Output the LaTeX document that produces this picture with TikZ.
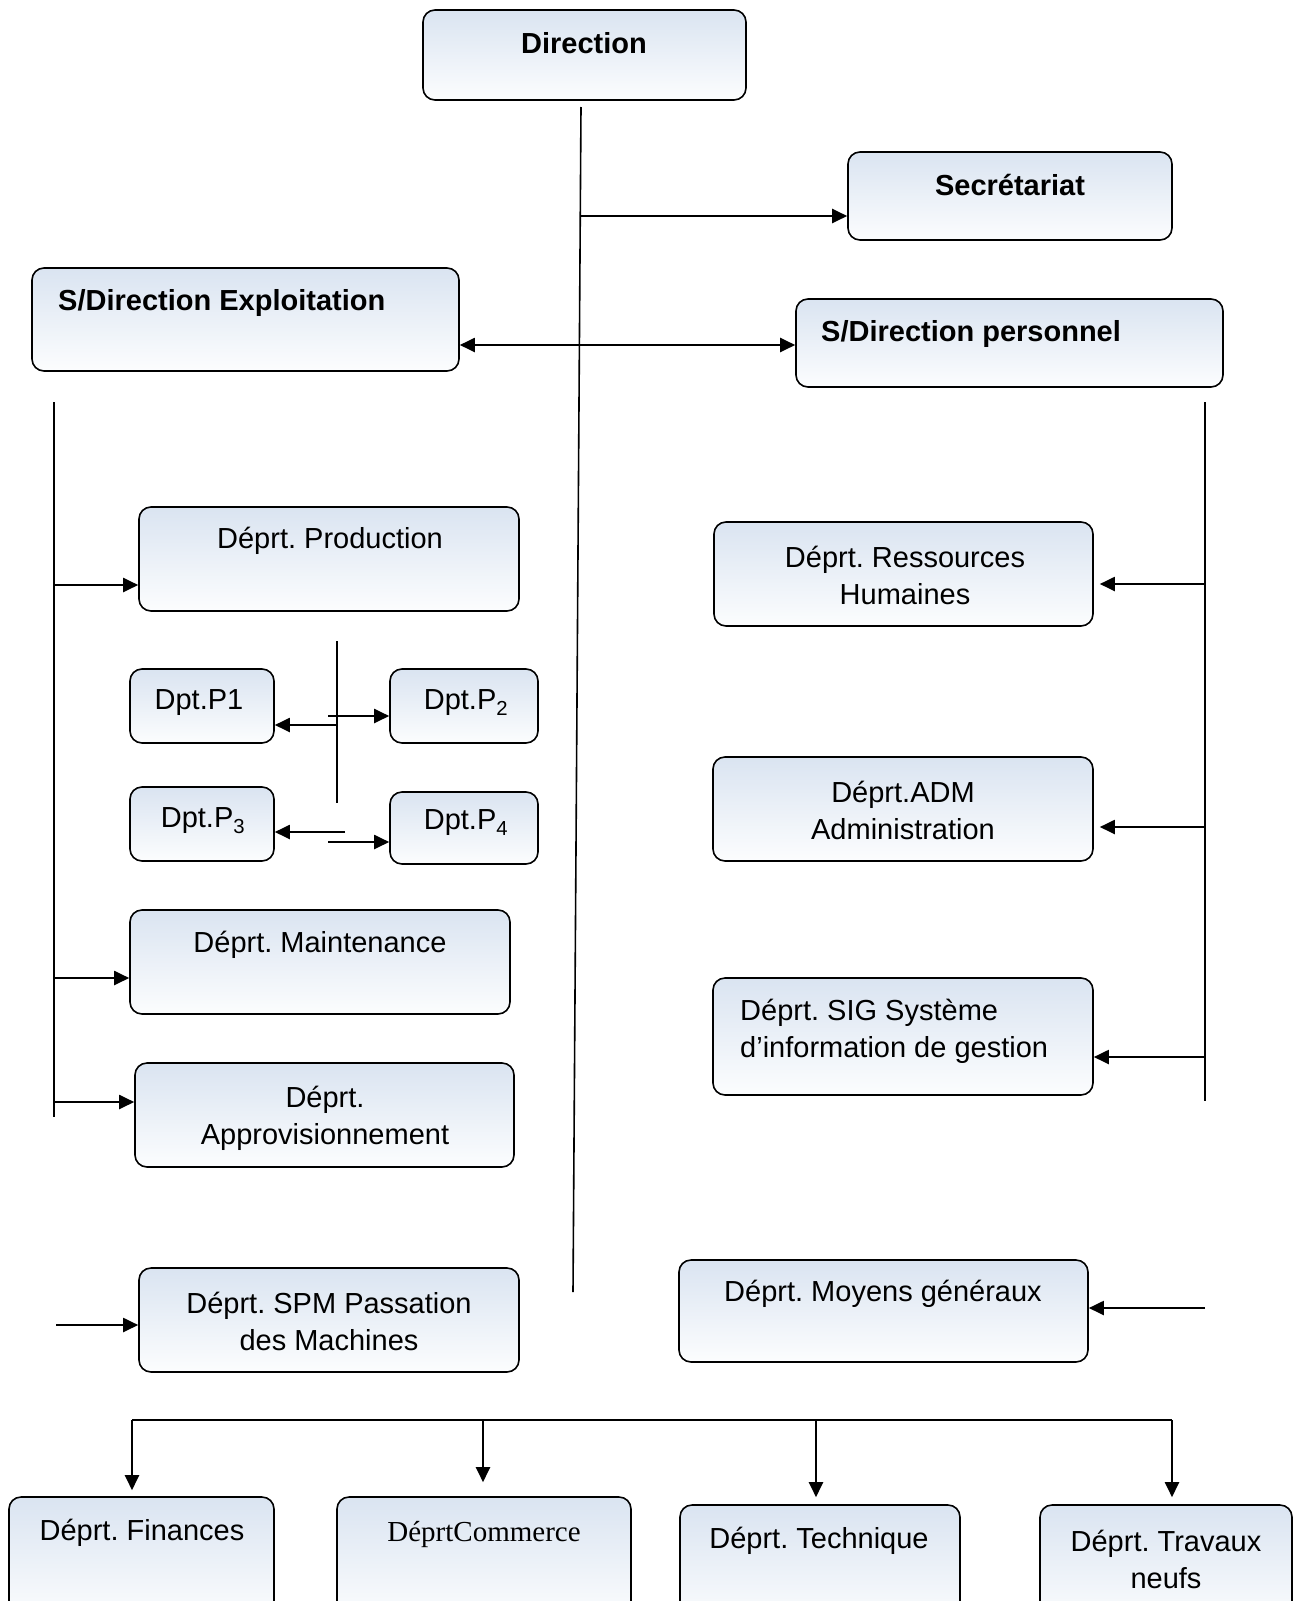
\documentclass[tikz,border=0pt]{standalone}
\usepackage{fontspec}
\setmainfont{Liberation Sans}
\newfontfamily\comfont{Liberation Serif}
\frenchspacing
\usetikzlibrary{arrows.meta}
\definecolor{boxtop}{RGB}{218,228,241}
\definecolor{boxbot}{RGB}{252,253,254}
\tikzset{
  box/.style  = {rectangle, draw, rounded corners=12pt, line width=1.6pt, top color=boxtop, bottom color=boxbot, inner sep=0pt},
  txt/.style  = {inner sep=0pt, align=center, yshift=-1pt, font=\fontsize{29}{37}\selectfont},
  ttl/.style  = {txt, font=\fontsize{29}{37}\selectfont\bfseries},
  wire/.style = {draw, line width=1.6pt},
  arr/.style  = {draw, line width=2pt, -{Triangle[length=15pt,width=14pt]}},
  darr/.style = {draw, line width=2pt, {Triangle[length=15pt,width=14pt]}-{Triangle[length=15pt,width=14pt]}}
}

\begin{document}
\begin{tikzpicture}[x=1pt, y=-1pt]
    \useasboundingbox (0,0) rectangle (1293,1601);

    % top level
    \node[box, minimum width=323pt, minimum height=90pt]  (direction)   at (584.5,55)   {};
    \node[ttl] (direction-t) at (584,42) {Direction};
    \node[box, minimum width=324pt, minimum height=88pt]  (secretariat) at (1010,196)   {};
    \node[ttl] (secretariat-t) at (1010,184) {Secrétariat};
    \node[box, minimum width=427pt, minimum height=103pt] (sdexpl)      at (245.5,319.5) {};
    \node[ttl, anchor=west] (sdexpl-t) at (58,302) {S/Direction Exploitation};
    \node[box, minimum width=427pt, minimum height=88pt]  (sdpers)      at (1009.5,343) {};
    \node[ttl, anchor=west] (sdpers-t) at (821,333) {S/Direction personnel};

    % exploitation side
    \node[box, minimum width=380pt, minimum height=104pt] (prod)  at (329,559)    {};
    \node[txt] (prod-t) at (330,540) {Déprt. Production};
    \node[box, minimum width=144pt, minimum height=74pt]  (p1)    at (202,706)    {};
    \node[txt] (p1-t) at (199,702) {Dpt.P1};
    \node[box, minimum width=148pt, minimum height=74pt]  (p2)    at (464,706)    {};
    \node[txt] (p2-t) at (466,702) {Dpt.P\textsubscript{2}};
    \node[box, minimum width=144pt, minimum height=74pt]  (p3)    at (202,824)    {};
    \node[txt] (p3-t) at (203,820) {Dpt.P\textsubscript{3}};
    \node[box, minimum width=148pt, minimum height=72pt]  (p4)    at (464,828)    {};
    \node[txt] (p4-t) at (466,822) {Dpt.P\textsubscript{4}};
    \node[box, minimum width=380pt, minimum height=104pt] (maint) at (320,962)    {};
    \node[txt] (maint-t) at (320,944) {Déprt. Maintenance};
    \node[box, minimum width=379pt, minimum height=104pt] (appro) at (324.5,1115) {};
    \node[txt] (appro-t) at (325,1117) {Déprt.\\Approvisionnement};
    \node[box, minimum width=380pt, minimum height=104pt] (spm)   at (329,1320)   {};
    \node[txt] (spm-t) at (329,1320) {Déprt. SPM Passation\\des Machines};

    % personnel side
    \node[box, minimum width=379pt, minimum height=104pt] (rh)     at (903.5,574)  {};
    \node[txt] (rh-t) at (905,574) {Déprt. Ressources\\Humaines};
    \node[box, minimum width=380pt, minimum height=104pt] (adm)    at (903,809)    {};
    \node[txt] (adm-t) at (903,809) {Déprt.ADM\\Administration};
    \node[box, minimum width=380pt, minimum height=117pt] (sig)    at (903,1036.5) {};
    \node[txt, align=left, anchor=west] (sig-t) at (740,1030) {Déprt. SIG Système\\d’information de gestion};
    \node[box, minimum width=409pt, minimum height=102pt] (moyens) at (883.5,1311) {};
    \node[txt] (moyens-t) at (883,1293) {Déprt. Moyens généraux};

    % bottom row
    \node[box, minimum width=265pt, minimum height=123pt] (fin)  at (141.5,1558.5) {};
    \node[txt] (fin-t) at (142,1532) {Déprt. Finances};
    \node[box, minimum width=294pt, minimum height=123pt] (com)  at (484,1558.5)   {};
    \node[txt, font=\fontsize{29}{37}\selectfont\comfont] (com-t) at (484,1533) {DéprtCommerce};
    \node[box, minimum width=280pt, minimum height=120pt] (tech) at (820,1565)     {};
    \node[txt] (tech-t) at (819,1540) {Déprt. Technique};
    \node[box, minimum width=252pt, minimum height=120pt] (trav) at (1166,1565)    {};
    \node[txt] (trav-t) at (1166,1558) {Déprt. Travaux\\neufs};

    % main line
    \coordinate (mtop) at (581,107);
    \coordinate (mbot) at (573,1292);
    \coordinate (jsec) at (580,216);
    \coordinate (jsub) at (579,345);
    \path[wire] (mtop) -- (mbot);
    \path[arr]  (jsec) -- (jsec -| secretariat.west);
    \path[darr] (jsub -| sdexpl.east) -- (jsub -| sdpers.west);

    % exploitation line
    \coordinate (ltop)   at (54,402);
    \coordinate (lbot)   at (54,1117);
    \coordinate (jprod)  at (54,585);
    \coordinate (jmaint) at (54,978);
    \coordinate (jappro) at (54,1102);
    \coordinate (sspm)   at (56,1325);
    \path[wire] (ltop) -- (lbot);
    \path[arr] (jprod)  -- (jprod -| prod.west);
    \path[arr] (jmaint) -- (jmaint -| maint.west);
    \path[arr] (jappro) -- (jappro -| appro.west);
    \path[arr] (sspm)   -- (sspm -| spm.west);

    % production units
    \coordinate (ptop) at (337,641);
    \coordinate (pbot) at (337,803);
    \coordinate (jp1)  at (337,725);
    \coordinate (jp2)  at (328,716);
    \coordinate (jp3)  at (345,832);
    \coordinate (jp4)  at (328,842);
    \path[wire] (ptop) -- (pbot);
    \path[arr] (jp1) -- (jp1 -| p1.east);
    \path[arr] (jp2) -- (jp2 -| p2.west);
    \path[arr] (jp3) -- (jp3 -| p3.east);
    \path[arr] (jp4) -- (jp4 -| p4.west);

    % personnel line
    \coordinate (rtop) at (1205,402);
    \coordinate (rbot) at (1205,1101);
    \coordinate (jrh)  at (1205,584);
    \coordinate (jadm) at (1205,827);
    \coordinate (jsig) at (1205,1057);
    \coordinate (smoy) at (1205,1308);
    \path[wire] (rtop) -- (rbot);
    \path[arr, shorten >=6pt] (jrh)  -- (jrh -| rh.east);
    \path[arr, shorten >=6pt] (jadm) -- (jadm -| adm.east);
    \path[arr] (jsig) -- (jsig -| sig.east);
    \path[arr] (smoy) -- (smoy -| moyens.east);

    % bottom bar
    \coordinate (b1) at (132,1420);
    \coordinate (b2) at (483,1420);
    \coordinate (b3) at (816,1420);
    \coordinate (b4) at (1172,1420);
    \path[wire] (b1) -- (b4);
    \path[arr, shorten >=6pt]  (b1) -- (b1 |- fin.north);
    \path[arr, shorten >=14pt] (b2) -- (b2 |- com.north);
    \path[arr, shorten >=7pt]  (b3) -- (b3 |- tech.north);
    \path[arr, shorten >=7pt]  (b4) -- (b4 |- trav.north);
\end{tikzpicture}
\end{document}
